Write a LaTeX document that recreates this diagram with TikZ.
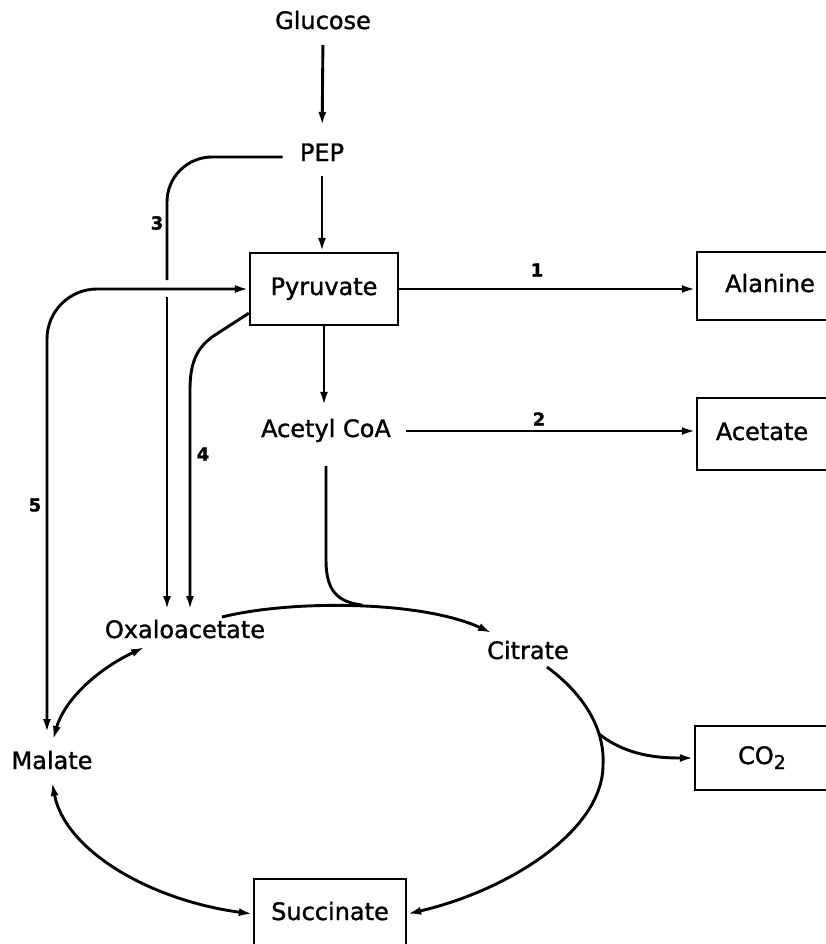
\documentclass[tikz,border=0pt]{standalone}
\usepackage{fontspec}
\setmainfont{DejaVu Sans}[FakeBold=1.3]
\usetikzlibrary{arrows.meta,calc}
\begin{document}
\begin{tikzpicture}[x=1pt,y=-1pt,
  every node/.style={font=\fontsize{24}{28}\selectfont, inner sep=2pt},
  txt/.style={text height=17pt, text depth=5pt},
  num/.style={font=\fontsize{18}{21}\selectfont\bfseries},
  box/.style={txt, draw, line width=2.4pt},
  link/.style={line width=2.9pt},
  tip/.style={-{Latex[length=14pt,width=8pt]}},
  tips/.style={{Latex[length=14pt,width=8pt]}-{Latex[length=14pt,width=8pt]}},
]
\useasboundingbox (0,0) rectangle (826,944);
\clip (0,0) rectangle (826,944);

% metabolites
\node[txt] (glucose) at (323,23) {Glucose};
\node[txt] (pep) at (322,155) {PEP};
\node[box, minimum width=148pt, minimum height=72pt] (pyr) at (324,289) {Pyruvate};
\node[box, minimum width=146pt, minimum height=68pt] (ala) at (770,286) {Alanine};
\node[txt] (acetyl) at (326,431) {Acetyl CoA};
\node[box, minimum width=130pt, minimum height=72pt] (acetate) at (762,434) {Acetate};
\node[txt] (oaa) at (185,632) {Oxaloacetate};
\node[txt] (citrate) at (528,653) {Citrate};
\node[txt] (malate) at (52,763) {Malate};
\node[box, minimum width=134pt, minimum height=64pt] (co2) at (762,758) {CO\raisebox{-5pt}{\fontsize{19}{19}\selectfont 2}};
\node[box, minimum width=152pt, minimum height=70pt] (succ) at (330,914) {Succinate};

% reaction numbers
\node[num] (n1) at (537,270) {1};
\node[num] (n2) at (539,419) {2};
\node[num] (n3) at (157,223) {3};
\node[num] (n4) at (203,454) {4};
\node[num] (n5) at (35,505) {5};

% helper points
\coordinate (gap3a) at (167,280);
\coordinate (gap3b) at (167,297);
\coordinate (join) at (362,605);
\coordinate (branch) at (599,734);

% main glycolytic line
\draw[link,tip,shorten <=9pt,shorten >=16pt] (glucose.south) -- (pep.north);
\draw[link,tip,shorten <=8pt] (pep.south) -- (pep.south |- pyr.north);
\draw[link,tip,shorten >=12pt] (pyr.south) -- (pyr.south |- acetyl.north);

% side products
\draw[link,tip] (pyr.east) -- (pyr.east -| ala.west);
\draw[link,tip,shorten <=13pt] (acetyl.east) -- (acetyl.east -| acetate.west);

% acetyl CoA into the cycle
\draw[link,shorten <=22pt] (acetyl.south) -- ++(0,116) .. controls +(0,30) and +(-25,-3) .. (join);

% reaction 3: PEP to oxaloacetate
\draw[link,rounded corners=45pt] ($(pep.west)+(-15,2)$) -| (gap3a);
\draw[link,tip] (gap3b) -- ($(oaa)+(-18,-22)$);

% reaction 4: pyruvate to oxaloacetate
\draw[link,tip] ($(pyr.south west)+(0,-13)$) -- (215,335)
  .. controls (197,347) and (190,362) .. (190,390) -- ($(oaa)+(5,-22)$);

% reaction 5: malate and pyruvate
\draw[link,tips,rounded corners=50pt] ($(malate)+(-5,-30)$) |- (pyr.west);

% the cycle
\draw[link,tip] ($(oaa)+(37,-15)$) .. controls +(68,-17) and +(-72,-33) .. ($(citrate)+(-36,-20)$);
\draw[link,tip] ($(citrate)+(19,14)$) .. controls (585,695) and (605,730) .. (603,765)
  .. controls (603,830) and (510,890) .. (succ.east);
\draw[link,tip] (branch) .. controls +(28,22) and +(-35,0) .. (co2.west);
\draw[link,tips] ($(malate)+(0,19)$) .. controls +(13,68) and +(-104,-14) .. (succ.west);
\draw[link,tips] ($(malate)+(1,-23)$) .. controls +(12,-42) and +(-45,21) .. ($(oaa)+(-40,15)$);
\end{tikzpicture}
\end{document}
